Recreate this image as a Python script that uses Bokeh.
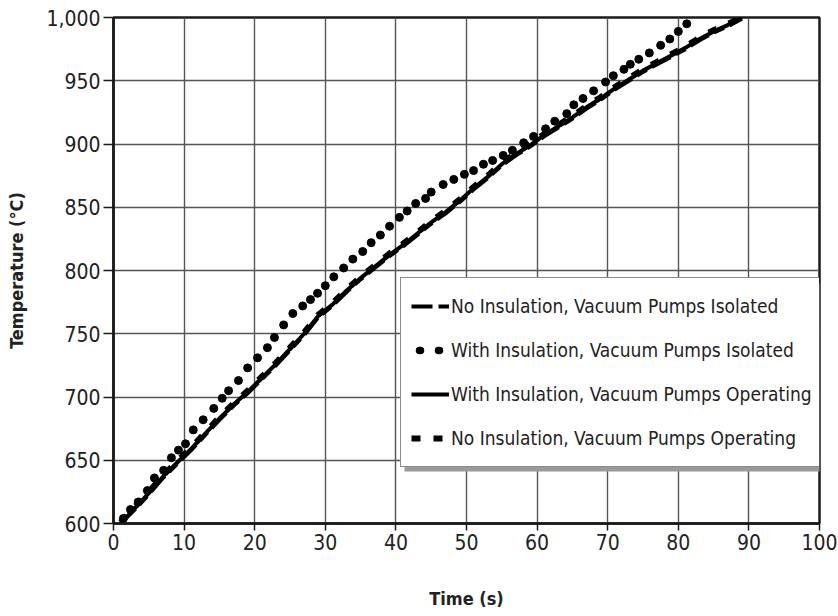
from bokeh.plotting import figure
from bokeh.models import (Legend, LegendItem, NumeralTickFormatter, FixedTicker,
                          Range1d, BoxAnnotation)
from bokeh.embed import file_html
from bokeh.resources import INLINE

# Furnace heat-up: temperature (°C) against time (s)

# No insulation, vacuum pumps isolated
t_noins_iso = [1, 3, 5, 7, 9, 11, 13, 15, 17, 19, 21, 23, 25, 27, 29, 31, 33, 35, 37, 39,
               41, 43, 45, 47, 49, 51, 53, 55, 57, 59, 61, 63, 65, 67, 69, 71, 73, 75, 77,
               79, 81, 83, 85, 87, 89]
T_noins_iso = [600, 611, 623, 636, 647, 658, 670, 682, 693, 703, 714, 725, 737, 749, 763,
               772, 783, 793, 802, 811, 819, 828, 837, 845, 854, 864, 873, 883, 891, 898,
               906, 913, 920, 928, 935, 943, 950, 957, 963, 969, 975, 982, 988, 993, 999]

# With insulation, vacuum pumps isolated
t_ins_iso = [1.4, 2.4, 3.5, 4.8, 5.8, 7.1, 8.2, 9.2, 10.2, 11.3, 12.7, 14.2, 15.4, 16.3,
             17.7, 19.0, 20.4, 21.8, 22.8, 24.1, 25.4, 26.8, 27.9, 28.9, 30.0, 31.2, 32.6,
             33.9, 35.3, 36.5, 37.8, 39.1, 40.5, 41.6, 42.8, 44.2, 45.0, 46.7, 48.2, 49.7,
             51.0, 52.4, 53.7, 55.2, 56.5, 58.1, 59.5, 61.2, 62.5, 64.2, 65.2, 66.5, 68.0,
             69.7, 70.8, 72.3, 73.2, 74.4, 75.9, 77.5, 78.8, 80.0, 81.2]
T_ins_iso = [604, 611, 617, 626, 636, 642, 652, 658, 663, 674, 682, 691, 699, 705, 713,
             723, 731, 739, 747, 757, 766, 772, 777, 782, 788, 795, 802, 809, 815, 822,
             828, 835, 842, 847, 853, 857, 862, 868, 872, 876, 879, 884, 887, 891, 895,
             901, 906, 912, 918, 924, 931, 936, 942, 949, 954, 959, 963, 967, 972, 978,
             983, 989, 995]

# With insulation, vacuum pumps operating
t_ins_op = [1, 3, 5, 7, 9, 11, 13, 15, 17, 19, 21, 23, 25, 27, 29, 31, 33, 35, 37, 39,
            41, 43, 45, 47, 49, 51, 53, 55, 57, 59, 61, 63, 65, 67, 69, 71, 73, 75, 77,
            79, 81, 83, 85, 87, 89]
T_ins_op = [600, 612, 624, 637, 648, 659, 671, 683, 694, 704, 715, 726, 738, 750, 764,
            773, 784, 794, 803, 812, 820, 829, 838, 846, 855, 865, 874, 884, 892, 899,
            907, 914, 921, 929, 936, 944, 951, 958, 964, 970, 976, 983, 989, 994, 1000]

# No insulation, vacuum pumps operating
t_noins_op = [1, 3, 5, 7, 9, 11, 13, 15, 17, 19, 21, 23, 25, 27, 29, 31, 33, 35, 37, 39,
              41, 43, 45, 47, 49, 51, 53, 55, 57, 59, 61, 63, 65, 67, 69, 71, 73, 75, 77,
              79, 81, 83, 85, 87, 89]
T_noins_op = [601, 613, 625, 638, 649, 660, 672, 684, 695, 705, 716, 727, 739, 751, 765,
              774, 785, 795, 804, 813, 821, 830, 839, 847, 856, 866, 875, 885, 893, 900,
              908, 915, 922, 930, 937, 945, 952, 959, 965, 971, 977, 984, 990, 995, 1000]

x_ticks = [0, 10, 20, 30, 40, 50, 60, 70, 80, 90, 100]
y_ticks = [600, 650, 700, 750, 800, 850, 900, 950, 1000]

labels = ["No Insulation, Vacuum Pumps Isolated",
          "With Insulation, Vacuum Pumps Isolated",
          "With Insulation, Vacuum Pumps Operating",
          "No Insulation, Vacuum Pumps Operating"]

FONT = "'DejaVu Sans Condensed', 'Liberation Sans', sans-serif"

p = figure(width=838, height=616, output_backend="svg", toolbar_location=None,
           x_range=Range1d(0, 100), y_range=Range1d(600, 1000),
           min_border_left=113, min_border_right=19, min_border_top=17,
           min_border_bottom=93)
p.background_fill_color = "white"
p.border_fill_color = "white"
p.outline_line_color = "#1a1a1a"
p.outline_line_width = 2.5

p.xaxis.ticker = FixedTicker(ticks=x_ticks)
p.yaxis.ticker = FixedTicker(ticks=y_ticks)
p.yaxis.formatter = NumeralTickFormatter(format="0,0")
p.xaxis.axis_label = "Time (s)"
p.yaxis.axis_label = "Temperature (°C)"

for ax in (p.xaxis, p.yaxis):
    ax.axis_line_color = "#1a1a1a"
    ax.axis_line_width = 2.5
    ax.major_tick_line_color = "#1a1a1a"
    ax.major_tick_line_width = 1.5
    ax.minor_tick_line_color = None
    ax.major_label_text_font = FONT
    ax.major_label_text_font_size = "21px"
    ax.major_label_text_color = "#222222"
    ax.axis_label_text_font = FONT
    ax.axis_label_text_font_size = "18px"
    ax.axis_label_text_font_style = "bold"
    ax.axis_label_text_color = "#222222"
    ax.major_tick_in = 0

p.xaxis.major_tick_out = 7
p.yaxis.major_tick_out = 10
p.xaxis.major_label_standoff = 3
p.yaxis.major_label_standoff = 3
p.xaxis.axis_label_standoff = 35
p.yaxis.axis_label_standoff = 16

p.grid.grid_line_color = "#555555"
p.grid.grid_line_width = 1.4
p.xgrid.ticker = FixedTicker(ticks=x_ticks)
p.ygrid.ticker = FixedTicker(ticks=y_ticks)

r1 = p.line(t_noins_iso, T_noins_iso, line_color="black", line_width=4,
            line_dash="21 6 11 6")
r4 = p.line(t_noins_op, T_noins_op, line_color="black", line_width=6,
            line_dash="9 13")
r3 = p.line(t_ins_op, T_ins_op, line_color="black", line_width=4)
r2 = p.scatter(t_ins_iso, T_ins_iso, size=8, marker="circle", fill_color="black",
               line_color="black")

# legend key for the dotted series: the same data as a round-capped dotted line,
# bound to a range that keeps it out of the frame so only the key is seen
p.extra_y_ranges = {"legend_key": Range1d(0, 1)}
r2_key = p.line(t_ins_iso, T_ins_iso, y_range_name="legend_key", line_color="black",
                line_width=7.5, line_cap="round", line_dash="1 18 1 60",
                line_dash_offset=72)

# legend box geometry (screen px from the frame's lower-left corner)
LEG_LEFT, LEG_BOTTOM = 400, 56

# drop shadow behind the legend box
shadow = BoxAnnotation(left=LEG_LEFT - 113 + 4, right=820 - 113, bottom=LEG_BOTTOM - 4,
                       top=LEG_BOTTOM + 184,
                       left_units="screen", right_units="screen",
                       bottom_units="screen", top_units="screen",
                       fill_color="#9a9a9a", fill_alpha=1.0, line_color=None,
                       level="annotation")
p.add_layout(shadow)

legend = Legend(items=[LegendItem(label=labels[0], renderers=[r1]),
                       LegendItem(label=labels[1], renderers=[r2_key]),
                       LegendItem(label=labels[2], renderers=[r3]),
                       LegendItem(label=labels[3], renderers=[r4])],
                location=(LEG_LEFT - 113, LEG_BOTTOM), orientation="vertical",
                background_fill_color="white", background_fill_alpha=1.0,
                border_line_color="#1a1a1a", border_line_width=1.5,
                label_text_font=FONT, label_text_font_size="19px",
                label_text_color="#222222",
                glyph_width=38, glyph_height=36, label_height=36,
                label_standoff=2, spacing=8, padding=10, margin=0)
p.add_layout(legend, "center")

open("out.html", "w").write(file_html(p, INLINE))
